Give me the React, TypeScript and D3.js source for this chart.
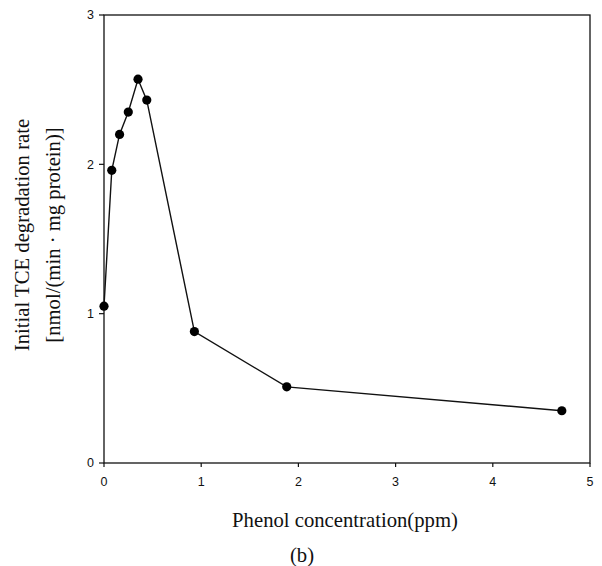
import React from "react";
import * as d3 from "d3";

const phenolPpm: number[] = [0, 0.08, 0.16, 0.25, 0.35, 0.44, 0.93, 1.88, 4.71];
const rateValues: number[] = [1.05, 1.96, 2.2, 2.35, 2.57, 2.43, 0.88, 0.51, 0.35];
const xTicks: number[] = [0, 1, 2, 3, 4, 5];
const yTicks: number[] = [0, 1, 2, 3];
const xLabel = "Phenol concentration(ppm)";
const yLabel1 = "Initial TCE degradation rate";
const yLabel2 = "[nmol/(min · mg protein)]";
const caption = "(b)";

export default function App() {
  const W = 602, H = 566;
  const left = 104, right = 590, top = 15, bottom = 463;
  const x = d3.scaleLinear().domain([0, 5]).range([left, right]);
  const y = d3.scaleLinear().domain([0, 3]).range([bottom, top]);
  const pts = phenolPpm.map((v, i) => [v, rateValues[i]] as [number, number]);
  const line = d3.line<[number, number]>().x(d => x(d[0])).y(d => y(d[1]));
  const tickFont = "'Liberation Sans', Arial, sans-serif";
  const serif = "'Liberation Serif', 'Times New Roman', serif";
  const cy = 235;
  const fs = 20.7;
  return (
    <svg width={W} height={H} style={{ position: "absolute", left: 0, top: 0, background: "#fff" }}>
      <rect x={0} y={0} width={W} height={H} fill="#fff" />
      <rect x={left} y={top} width={right - left} height={bottom - top} fill="none" stroke="#111" strokeWidth={1.3} />
      {yTicks.map(t => (
        <g key={"y" + t}>
          <line x1={left - 5} x2={left} y1={y(t)} y2={y(t)} stroke="#111" strokeWidth={1.2} />
          <text x={left - 10} y={y(t)} dy="0.35em" textAnchor="end" fontFamily={tickFont} fontSize={12.5} fill="#111">{t}</text>
        </g>
      ))}
      {xTicks.map(t => (
        <g key={"x" + t}>
          <line x1={x(t)} x2={x(t)} y1={bottom} y2={bottom + 4} stroke="#111" strokeWidth={1.2} />
          <text x={x(t)} y={482} dy="0.35em" textAnchor="middle" fontFamily={tickFont} fontSize={12.5} fill="#111">{t}</text>
        </g>
      ))}
      <path d={line(pts) || ""} fill="none" stroke="#111" strokeWidth={1.4} />
      {pts.map((p, i) => (
        <circle key={i} cx={x(p[0])} cy={y(p[1])} r={4.6} fill="#000" />
      ))}
      <text x={345} y={520} dy="0.35em" textAnchor="middle" fontFamily={serif} fontSize={fs} fill="#111">{xLabel}</text>
      <text x={302} y={555} dy="0.35em" textAnchor="middle" fontFamily={serif} fontSize={fs} fill="#111">{caption}</text>
      <text transform={`translate(22,${cy}) rotate(-90)`} dy="0.35em" textAnchor="middle" fontFamily={serif} fontSize={fs} fill="#111">{yLabel1}</text>
      <text transform={`translate(53,${cy}) rotate(-90)`} dy="0.35em" textAnchor="middle" fontFamily={serif} fontSize={fs} fill="#111">{yLabel2}</text>
    </svg>
  );
}
